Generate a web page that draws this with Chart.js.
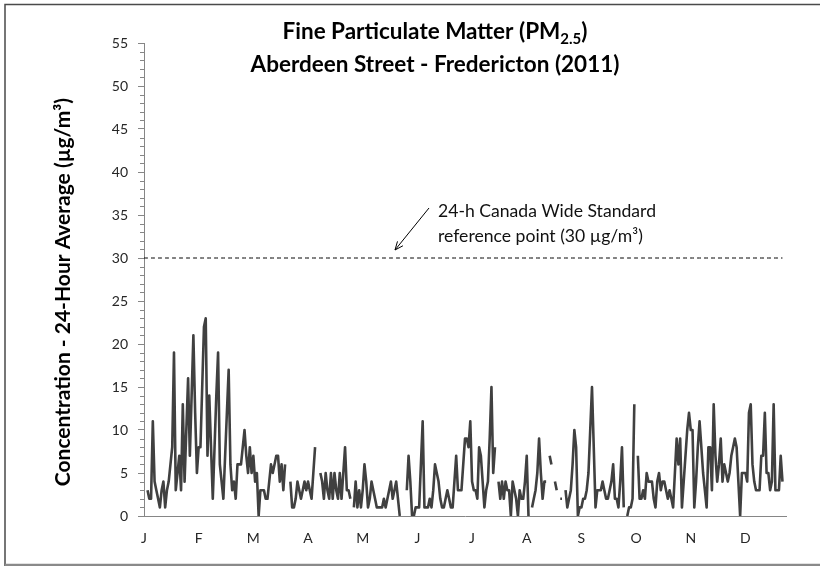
<!DOCTYPE html>
<html>
<head>
<meta charset="utf-8" />
<script src="https://cdn.jsdelivr.net/npm/chart.js@4.4.0/dist/chart.umd.min.js"></script>
<style>
  body { margin:0; background:#fff; }
  #wrap { width:820px; height:566px; }
</style>
</head>
<body>
<div id="wrap"><canvas id="pmChart" width="820" height="566"></canvas></div>
<script>
// month initials shown every 31 days along the category axis
const monthLetters = ['J','F','M','A','M','J','J','A','S','O','N','D'];
const labelEvery = 31;

// daily 24-h PM2.5 (ug/m3); null = no data
const jan = [null,null,3,2,2,11,4,3,2,1,3,4,1,3,4,6,8,19,3,5,7,3,13,4,10,16,7,14,21,12,5];
const feb = [8,8,15,22,23,7,14,8,2,8,14,19,6,4,2,7,12,17,6,3,4,2,6,6,6,8,10,7];
const mar = [5,8,5,7,4,5,0,3,3,3,2,2,4,6,5,6,7,7,4,6,3,6,null,null,4,1,1,2,4,3,2];
const apr = [3,4,3,4,3,2,5,8,null,null,5,4,2,5,3,2,5,2,5,3,2,5,2,5,8,3,3,2,null,1];
const may = [4,1,3,1,3,6,4,1,2,4,3,2,1,1,1,1,2,1,2,3,4,2,3,4,2,0,null,null,null,3,7];
const jun = [4,0,0,1,1,1,6,11,1,1,1,2,1,3,6,5,4,2,1,1,2,3,2,1,1,4,7,3,3,3];
const jul = [6,9,9,8,11,4,3,3,2,8,7,4,1,3,4,9,15,5,8,null,4,2,4,2,4,3,3,0,4,3,2];
const aug = [0,3,2,2,4,7,0,null,1,2,3,5,9,5,2,4,4,null,7,6,null,4,3,null,2,2,null,3,1,2,3];
const sep = [6,10,8,0,1,1,2,2,3,5,10,15,8,1,3,3,3,4,3,2,2,3,4,6,2,2,1,4,8,1];
const oct = [null,0,1,1,2,13,null,7,2,2,3,2,5,4,4,4,2,1,4,5,3,4,4,3,2,3,2,1,5,9,6];
const nov = [9,1,4,7,10,12,10,10,1,4,8,11,8,5,3,1,8,8,3,13,7,4,6,9,4,6,5,4,5,7];
const dec = [8,9,8,4,0,5,5,5,4,12,13,6,4,3,3,3,7,7,12,5,5,3,4,13,3,3,3,7,4,null,null];

const standardValue = 30;   // 24-h Canada Wide Standard
const standardDays = 363;   // the reference line stops with the last reading

const pm25 = [].concat(jan, feb, mar, apr, may, jun, jul, aug, sep, oct, nov, dec);
const days = pm25.map((v, i) => i + 1);
const standard = days.map((d, i) => i < standardDays ? standardValue : null);

const FONT = 'Lato, "Open Sans", sans-serif';
const AXIS_GREY = '#868686';

// frame, titles, annotation and the minor ticks of the value axis
const decorations = {
  id: 'decorations',
  beforeDraw(chart) {
    const ctx = chart.ctx;
    ctx.save();
    ctx.fillStyle = '#fff';
    ctx.fillRect(0, 0, chart.width, chart.height);
    ctx.lineWidth = 1.5;
    ctx.strokeStyle = '#4a4a4a';
    ctx.beginPath();
    ctx.moveTo(5, 566); ctx.lineTo(5, 4.5); ctx.lineTo(820, 4.5);
    ctx.stroke();
    ctx.strokeStyle = '#8a8a8a';
    ctx.lineWidth = 2.5;
    ctx.beginPath();
    ctx.moveTo(5, 565); ctx.lineTo(820, 565);
    ctx.stroke();
    ctx.restore();
  },
  afterDraw(chart) {
    const ctx = chart.ctx;
    const y = chart.scales.y;
    const area = chart.chartArea;
    ctx.save();

    // minor ticks every 1 unit
    ctx.strokeStyle = AXIS_GREY;
    ctx.lineWidth = 1;
    for (let v = 0; v <= 55; v++) {
      if (v % 5 === 0) continue;
      const py = Math.round(y.getPixelForValue(v)) + 0.5;
      ctx.beginPath();
      ctx.moveTo(area.left - 4, py);
      ctx.lineTo(area.left, py);
      ctx.stroke();
    }

    // chart title with subscript
    ctx.fillStyle = '#000';
    ctx.textBaseline = 'alphabetic';
    const big = 'bold 22.5px ' + FONT, small = 'bold 15px ' + FONT;
    const parts = [['Fine Particulate Matter (PM', big, 0], ['2.5', small, 5], [')', big, 0]];
    let total = 0;
    parts.forEach(p => { ctx.font = p[1]; total += ctx.measureText(p[0]).width; });
    let x = 435 - total / 2;
    parts.forEach(p => {
      ctx.font = p[1];
      ctx.textAlign = 'left';
      ctx.fillText(p[0], x, 39 + p[2]);
      x += ctx.measureText(p[0]).width;
    });
    ctx.font = big;
    ctx.textAlign = 'center';
    ctx.fillText('Aberdeen Street - Fredericton (2011)', 435, 72);

    // value axis title
    ctx.save();
    ctx.translate(63, 292);
    ctx.rotate(-Math.PI / 2);
    ctx.font = 'bold 21px ' + FONT;
    ctx.textAlign = 'center';
    ctx.textBaseline = 'middle';
    ctx.fillText('Concentration - 24-Hour Average (\u00b5g/m\u00b3)', 0, 0);
    ctx.restore();

    // annotation for the standard
    ctx.font = '17.6px ' + FONT;
    ctx.textAlign = 'left';
    ctx.textBaseline = 'alphabetic';
    ctx.fillStyle = '#111';
    ctx.fillText('24-h Canada Wide Standard', 438, 217);
    ctx.fillText('reference point (30 \u00b5g/m\u00b3)', 438, 242);

    const x0 = 429, y0 = 208, x1 = 395, y1 = 250;
    const ang = Math.atan2(y1 - y0, x1 - x0);
    ctx.strokeStyle = '#000';
    ctx.lineWidth = 1;
    ctx.beginPath();
    ctx.moveTo(x0, y0);
    ctx.lineTo(x1, y1);
    ctx.moveTo(x1 - 9 * Math.cos(ang - 0.4), y1 - 9 * Math.sin(ang - 0.4));
    ctx.lineTo(x1, y1);
    ctx.lineTo(x1 - 9 * Math.cos(ang + 0.4), y1 - 9 * Math.sin(ang + 0.4));
    ctx.stroke();

    ctx.restore();
  }
};

new Chart(document.getElementById('pmChart'), {
  type: 'line',
  data: {
    labels: days,
    datasets: [
      { label: 'PM2.5', data: pm25, borderColor: '#404040', borderWidth: 2.6,
        pointRadius: 0, tension: 0, spanGaps: false, borderJoinStyle: 'round' },
      { label: 'CWS', data: standard, borderColor: '#000', borderWidth: 1,
        borderDash: [4, 3], pointRadius: 0 }
    ]
  },
  options: {
    responsive: false,
    animation: false,
    devicePixelRatio: 1,
    layout: { padding: { left: 0, right: 34, top: 43, bottom: 0 } },
    plugins: { legend: { display: false }, tooltip: { enabled: false }, title: { display: false } },
    scales: {
      x: {
        type: 'category',
        offset: false,
        grid: { display: false, drawTicks: false },
        border: { color: AXIS_GREY, width: 1 },
        afterFit: s => { s.height = 50; },
        afterBuildTicks: s => { s.ticks = s.ticks.filter(t => t.value % labelEvery === 0); },
        ticks: {
          autoSkip: false, maxRotation: 0, padding: 14,
          color: '#262626', font: { family: FONT, size: 14 },
          callback: v => monthLetters[v / labelEvery]
        }
      },
      y: {
        min: 0, max: 55,
        grid: { drawOnChartArea: false, drawTicks: true, tickLength: 6, color: AXIS_GREY },
        border: { color: AXIS_GREY, width: 1 },
        afterFit: s => { s.width = 144; },
        ticks: { stepSize: 5, padding: 10, color: '#262626', font: { family: FONT, size: 14 } }
      }
    }
  },
  plugins: [decorations]
});
</script>
</body>
</html>
